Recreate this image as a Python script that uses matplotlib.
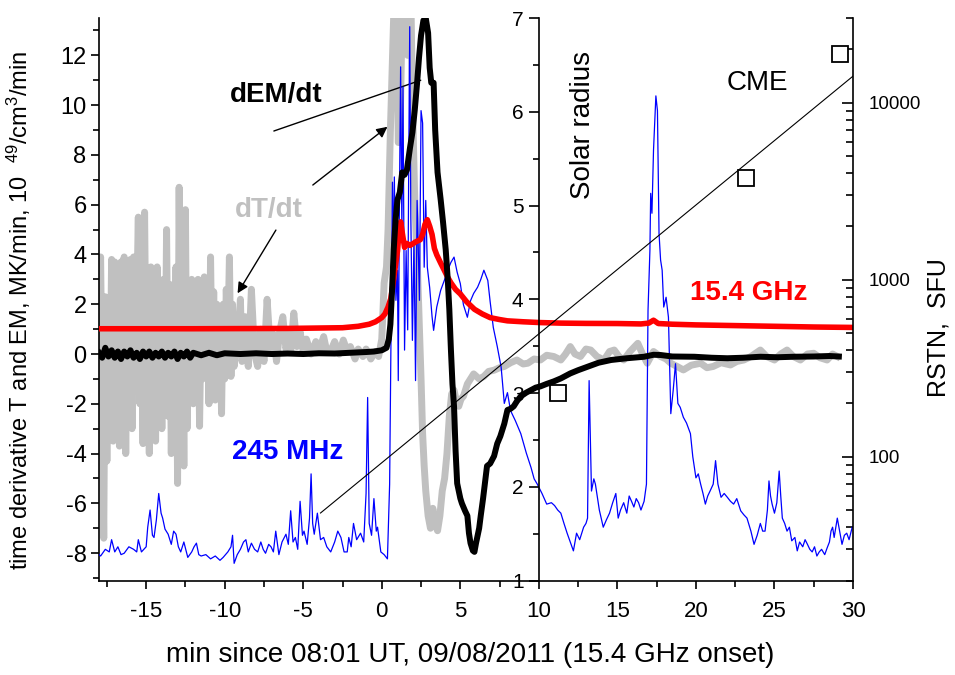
import numpy as np
import matplotlib
matplotlib.use('Agg')
import matplotlib.pyplot as plt
from matplotlib.ticker import MultipleLocator, LogLocator, NullFormatter, FixedLocator, FixedFormatter

plt.rcParams['font.family'] = 'Liberation Sans'
plt.rcParams['axes.unicode_minus'] = False
plt.rcParams['mathtext.default'] = 'regular'

# dT/dt, MK/min (grey) -- time in min since 08:01 UT
dT_dt = np.array([
    [-18.0, 0.5], [-17.9, 3.9], [-17.8, -1.9], [-17.7, -7.4], [-17.6, 2.3], [-17.5, -4.3],
    [-17.4, 2.2], [-17.3, -2.0], [-17.2, 3.8], [-17.1, -3.5], [-17.0, 3.7], [-16.9, -2.5],
    [-16.8, 1.0], [-16.7, -3.7], [-16.6, 3.7], [-16.5, -1.0], [-16.4, 3.9], [-16.3, -4.0],
    [-16.2, 2.5], [-16.1, -2.0], [-16.0, 3.8], [-15.9, -3.0], [-15.8, 3.9], [-15.7, -1.5],
    [-15.6, 2.0], [-15.5, 5.5], [-15.4, -2.0], [-15.3, 3.0], [-15.2, -3.6], [-15.1, 5.7],
    [-15.0, -1.0], [-14.9, 2.5], [-14.8, -4.0], [-14.7, 3.5], [-14.6, -2.0], [-14.5, 2.8],
    [-14.4, -3.5], [-14.3, 3.5], [-14.2, -1.0], [-14.1, 1.8], [-14.0, -3.0], [-13.9, 3.0],
    [-13.8, -1.85], [-13.7, 5.0], [-13.6, -2.5], [-13.5, 2.8], [-13.4, -4.0], [-13.3, 2.0],
    [-13.2, -3.0], [-13.1, 3.5], [-13.0, -5.2], [-12.9, 6.7], [-12.8, -2.0], [-12.7, 3.0],
    [-12.6, -4.5], [-12.5, 5.8], [-12.4, -3.0], [-12.3, 2.5], [-12.2, -1.5], [-12.1, 3.0],
    [-12.0, -2.0], [-11.9, 2.0], [-11.8, -1.0], [-11.7, 3.0], [-11.6, -2.9], [-11.5, 1.5],
    [-11.4, -1.0], [-11.3, 3.1], [-11.2, -0.5], [-11.1, 2.0], [-11.0, -2.0], [-10.9, 3.9],
    [-10.8, -1.0], [-10.7, 2.5], [-10.6, -1.85], [-10.5, 2.0], [-10.4, -0.5], [-10.3, 1.5],
    [-10.2, -2.4], [-10.1, 2.0], [-10.0, -1.0], [-9.9, 2.6], [-9.8, 0.5], [-9.7, 3.9],
    [-9.6, -0.9], [-9.5, 2.0], [-9.4, -0.5], [-9.3, 1.5], [-9.2, 0.0], [-9.0, 2.2],
    [-8.9, -0.3], [-8.7, 1.5], [-8.5, -0.5], [-8.3, 2.6], [-8.1, 0.0], [-7.9, -0.5],
    [-7.7, 1.0], [-7.5, -0.3], [-7.3, 2.2], [-7.1, 0.2], [-6.9, 0.8], [-6.7, -0.3],
    [-6.5, 0.9], [-6.3, 1.5], [-6.1, 0.2], [-5.9, 0.8], [-5.8, 0.1], [-5.6, 1.65],
    [-5.4, 0.3], [-5.2, 0.9], [-5.0, 0.1], [-4.8, 0.6], [-4.5, 0.0], [-4.2, 0.5],
    [-4.0, 0.1], [-3.7, 0.7], [-3.5, 0.1], [-3.2, 0.2], [-3.0, 0.5], [-2.7, 0.0],
    [-2.45, 0.56], [-2.2, 0.1], [-2.0, 0.3], [-1.7, -0.2], [-1.5, 0.2], [-1.2, -0.1],
    [-1.0, 0.2], [-0.7, -0.2], [-0.4, 0.1], [-0.2, -0.1], [0.0, 0.6], [0.15, 2.85],
    [0.3, 3.5], [0.4, 5.0], [0.55, 9.0], [0.68, 11.8], [0.8, 14.5], [0.95, 14.5],
    [1.05, 8.5], [1.15, 8.5], [1.25, 12.0], [1.35, 14.5], [1.55, 14.5], [1.65, 12.0],
    [1.75, 14.5], [1.85, 14.5], [1.95, 10.2], [2.1, 6.2], [2.27, 3.5], [2.4, 1.0],
    [2.5, -1.0], [2.6, -3.2], [2.7, -4.5], [2.8, -5.5], [2.95, -6.5], [3.1, -7.0],
    [3.25, -6.2], [3.4, -6.8], [3.55, -7.1], [3.7, -6.5], [3.85, -5.5], [4.0, -5.0],
    [4.15, -4.0], [4.3, -2.5], [4.45, -1.6], [4.6, -1.45], [4.75, -1.9], [4.9, -2.1],
    [5.05, -1.8], [5.2, -1.7], [5.45, -1.2], [5.65, -1.0], [5.85, -0.8], [6.2, -1.0],
    [6.5, -0.9], [6.8, -0.7], [7.15, -0.65], [7.5, -0.55], [7.8, -0.5], [8.2, -0.35],
    [8.6, -0.24], [9.0, -0.4], [9.3, -0.37], [9.7, -0.2], [10.1, -0.24], [10.5, -0.05],
    [10.95, -0.1], [11.4, -0.24], [11.7, 0.0], [12.0, 0.3], [12.3, 0.0], [12.65, -0.1],
    [13.0, 0.2], [13.3, 0.16], [13.7, -0.1], [14.15, -0.24], [14.5, 0.1], [14.8, 0.16],
    [15.1, -0.1], [15.4, -0.24], [15.8, 0.1], [16.3, 0.43], [16.6, 0.0], [16.9, -0.37],
    [17.3, 0.1], [17.75, -0.1], [18.1, -0.2], [18.4, -0.37], [18.8, -0.5], [19.2, -0.64],
    [19.7, -0.45], [20.3, -0.37], [20.7, -0.55], [21.1, -0.5], [21.6, -0.35], [22.2, -0.44],
    [22.6, -0.3], [23.05, -0.24], [23.5, -0.1], [24.1, 0.16], [24.5, -0.1], [25.0, -0.24],
    [25.4, 0.0], [25.8, 0.16], [26.2, -0.1], [26.65, -0.24], [27.1, 0.0], [27.5, 0.03],
    [27.9, -0.15], [28.35, -0.24], [28.7, 0.0], [29.0, -0.1],
])

# dEM/dt, 10^49 cm^-3/min (black)
dEM_dt = np.array([
    [-18.0, 0.05], [-17.8, -0.15], [-17.6, 0.25], [-17.4, -0.1], [-17.2, 0.15], [-17.0, -0.15],
    [-16.8, 0.1], [-16.6, -0.2], [-16.4, 0.1], [-16.2, -0.1], [-16.0, 0.15], [-15.8, -0.15],
    [-15.6, 0.05], [-15.4, -0.2], [-15.2, 0.1], [-15.0, -0.1], [-14.8, 0.1], [-14.6, -0.15],
    [-14.4, 0.05], [-14.2, -0.1], [-14.0, 0.1], [-13.8, -0.15], [-13.6, 0.05], [-13.4, -0.1],
    [-13.2, 0.1], [-13.0, -0.2], [-12.8, 0.05], [-12.6, -0.1], [-12.4, 0.1], [-12.2, -0.15],
    [-12.0, 0.05], [-11.5, -0.05], [-11.0, 0.05], [-10.5, -0.05], [-10.0, 0.03], [-9.0, 0.0],
    [-8.0, 0.03], [-7.0, 0.0], [-6.0, 0.02], [-5.0, 0.0], [-4.0, 0.03], [-3.0, 0.02],
    [-2.0, 0.05], [-1.0, 0.08], [-0.5, 0.1], [0.0, 0.15], [0.3, 0.25], [0.45, 0.6],
    [0.55, 1.2], [0.65, 2.5], [0.76, 4.2], [0.88, 5.4], [1.0, 6.2], [1.15, 6.5],
    [1.3, 7.3], [1.45, 7.2], [1.6, 7.4], [1.8, 8.3], [1.95, 8.9], [2.1, 9.8],
    [2.25, 10.9], [2.37, 11.9], [2.5, 12.8], [2.65, 13.4], [2.8, 13.5], [2.95, 12.9],
    [3.05, 11.5], [3.15, 10.9], [3.3, 10.9], [3.4, 9.0], [3.55, 7.3], [3.75, 6.2],
    [3.9, 5.3], [4.07, 4.2], [4.2, 3.0], [4.3, 1.8], [4.4, 0.2], [4.5, -1.2],
    [4.6, -2.1], [4.7, -3.9], [4.8, -5.2], [5.0, -5.8], [5.1, -6.0], [5.3, -6.3],
    [5.45, -6.5], [5.55, -7.2], [5.65, -7.6], [5.8, -7.9], [5.9, -7.95], [6.0, -7.6],
    [6.1, -7.3], [6.2, -7.0], [6.3, -6.5], [6.45, -5.8], [6.6, -5.0], [6.7, -4.5],
    [6.9, -4.4], [7.15, -4.1], [7.35, -3.6], [7.55, -3.3], [7.8, -2.8], [8.0, -2.25],
    [8.2, -2.2], [8.4, -2.1], [8.6, -1.9], [8.85, -1.7], [9.2, -1.55], [9.5, -1.45],
    [9.8, -1.35], [10.1, -1.3], [10.5, -1.2], [10.95, -1.1], [11.4, -0.98], [12.0, -0.78],
    [12.5, -0.65], [13.1, -0.51], [13.8, -0.35], [14.6, -0.24], [15.6, -0.17], [16.7, -0.11],
    [17.3, -0.03], [17.75, -0.04], [18.5, -0.1], [19.9, -0.11], [21.0, -0.15], [22.0, -0.17],
    [23.0, -0.15], [24.1, -0.11], [25.2, -0.13], [26.2, -0.11], [27.5, -0.1], [28.5, -0.08],
    [29.1, -0.1],
])

# RSTN 15.4 GHz, SFU (red)
rstn_15400 = np.array([
    [-18.0, 528], [-12.0, 528], [-6.0, 530], [-2.5, 535], [-1.5, 545], [-0.8, 560],
    [-0.4, 578], [0.0, 610], [0.2, 640], [0.4, 700], [0.57, 780], [0.7, 920],
    [0.8, 1080], [0.9, 1250], [1.0, 1450], [1.1, 1850], [1.2, 2120], [1.3, 1850],
    [1.45, 1520], [1.6, 1600], [1.8, 1560], [2.0, 1600], [2.2, 1640], [2.45, 1680],
    [2.6, 1800], [2.75, 2050], [2.9, 2180], [3.05, 2000], [3.2, 1800], [3.35, 1500],
    [3.5, 1380], [3.75, 1240], [4.0, 1120], [4.2, 1030], [4.4, 960], [4.7, 880],
    [5.0, 830], [5.4, 750], [5.9, 680], [6.4, 640], [6.9, 610], [7.5, 595],
    [8.0, 585], [9.0, 578], [10.1, 572], [11.4, 568], [13.0, 566], [15.0, 565],
    [16.5, 562], [17.0, 568], [17.3, 590], [17.6, 565], [18.5, 560], [20.0, 555],
    [22.5, 550], [25.0, 545], [27.5, 540], [30.0, 537],
])

# RSTN 245 MHz, SFU (blue)
rstn_245 = np.array([
    [-18.0, 28], [-17.9, 27.5], [-17.6, 30], [-17.35, 29], [-17.2, 34], [-17.0, 29],
    [-16.8, 31], [-16.6, 28], [-16.4, 28.5], [-16.1, 31], [-15.8, 30], [-15.6, 29],
    [-15.5, 34], [-15.3, 29], [-15.0, 31], [-14.9, 40], [-14.75, 50], [-14.6, 36],
    [-14.5, 35], [-14.35, 44], [-14.2, 62], [-14.05, 48], [-13.95, 45], [-13.8, 39],
    [-13.6, 36.5], [-13.4, 32], [-13.25, 38], [-13.1, 36.5], [-12.95, 31], [-12.8, 29],
    [-12.6, 33], [-12.35, 27], [-12.1, 29], [-11.95, 31], [-11.8, 32.5], [-11.65, 28],
    [-11.5, 27.5], [-11.2, 28], [-10.9, 26.5], [-10.6, 27.5], [-10.3, 26], [-10.1, 27],
    [-9.8, 29], [-9.6, 31], [-9.5, 36], [-9.4, 25], [-9.2, 28], [-9.0, 30],
    [-8.8, 33], [-8.65, 34], [-8.5, 29], [-8.3, 32.5], [-8.1, 30], [-7.9, 29],
    [-7.7, 33], [-7.55, 30], [-7.4, 28.5], [-7.2, 32], [-7.05, 31], [-6.9, 29],
    [-6.75, 38], [-6.55, 28], [-6.35, 33], [-6.1, 36.5], [-5.95, 32], [-5.8, 49.5],
    [-5.65, 33], [-5.5, 35], [-5.35, 30], [-5.2, 56], [-5.05, 36], [-4.95, 38],
    [-4.75, 32], [-4.6, 45], [-4.5, 80], [-4.4, 42], [-4.3, 36.5], [-4.1, 48],
    [-3.9, 34], [-3.7, 35], [-3.5, 31], [-3.25, 29], [-3.0, 33], [-2.8, 38],
    [-2.6, 35], [-2.4, 29], [-2.2, 29], [-2.1, 35], [-1.95, 31], [-1.8, 42],
    [-1.6, 34], [-1.35, 37], [-1.15, 33], [-1.0, 62], [-0.9, 216], [-0.8, 42],
    [-0.65, 36], [-0.5, 58], [-0.35, 38], [-0.27, 40], [-0.06, 29], [0.15, 28],
    [0.36, 26.5], [0.5, 70], [0.57, 320], [0.62, 870], [0.68, 3550], [0.75, 1285],
    [0.8, 3800], [0.9, 764], [1.0, 1130], [1.05, 269], [1.12, 2500], [1.2, 15900],
    [1.28, 1900], [1.35, 12250], [1.45, 400], [1.55, 1460], [1.65, 520], [1.72, 5000],
    [1.78, 26800], [1.85, 2250], [1.95, 454], [2.05, 1670], [2.15, 269], [2.25, 2800],
    [2.4, 764], [2.5, 9000], [2.6, 7650], [2.7, 1175], [2.8, 2800], [2.9, 1175],
    [3.05, 900], [3.2, 620], [3.3, 517], [3.5, 700], [3.75, 870], [4.0, 1000],
    [4.2, 1130], [4.4, 1250], [4.6, 1340], [4.8, 1100], [5.0, 950], [5.2, 720],
    [5.45, 613], [5.65, 760], [5.85, 836], [6.1, 906], [6.3, 1000], [6.5, 1130],
    [6.75, 990], [6.9, 750], [7.1, 537], [7.35, 420], [7.6, 320], [7.8, 200],
    [8.0, 230], [8.2, 182], [8.5, 160], [8.85, 135], [9.2, 105], [9.5, 87],
    [9.7, 75], [9.9, 70], [10.2, 62], [10.5, 54], [10.8, 55], [11.0, 53],
    [11.2, 50], [11.4, 48], [11.6, 42], [11.8, 37], [12.0, 33], [12.2, 29.4],
    [12.4, 37], [12.6, 34], [12.85, 40], [13.0, 42], [13.1, 45], [13.2, 269],
    [13.35, 64], [13.5, 75], [13.6, 70], [13.85, 50], [14.1, 40], [14.3, 44],
    [14.5, 48], [14.7, 55], [14.9, 62], [15.05, 45], [15.2, 50], [15.4, 55],
    [15.6, 48], [15.75, 60], [15.9, 56], [16.05, 52], [16.2, 58], [16.35, 55],
    [16.5, 50], [16.7, 56], [16.85, 70], [16.95, 670], [17.07, 1460], [17.12, 3070],
    [17.2, 2370], [17.3, 5390], [17.45, 10900], [17.55, 9000], [17.65, 1830], [17.75, 1290],
    [17.85, 1130], [17.95, 700], [18.1, 795], [18.25, 613], [18.4, 175], [18.55, 236],
    [18.7, 335], [18.85, 200], [19.0, 190], [19.2, 167], [19.4, 155], [19.65, 135],
    [19.8, 100], [20.0, 76], [20.15, 80], [20.3, 70], [20.45, 62], [20.6, 54],
    [20.75, 60], [20.9, 64], [21.1, 70], [21.25, 95], [21.4, 70], [21.6, 59],
    [21.8, 62], [22.0, 59], [22.2, 56], [22.4, 54], [22.6, 58], [22.85, 49.5],
    [23.05, 47], [23.25, 45], [23.5, 38], [23.7, 32], [23.9, 36], [24.1, 42],
    [24.25, 38], [24.4, 38], [24.55, 50], [24.65, 73], [24.75, 60], [24.85, 54],
    [25.0, 48], [25.15, 55], [25.3, 83], [25.4, 60], [25.5, 45], [25.65, 42],
    [25.8, 38], [25.95, 40], [26.1, 33.5], [26.3, 35], [26.45, 29.4], [26.6, 33],
    [26.8, 31], [26.95, 34], [27.1, 32], [27.25, 30], [27.4, 29], [27.55, 31],
    [27.7, 27.5], [27.85, 29], [28.0, 30], [28.2, 28], [28.35, 30.5], [28.5, 33],
    [28.6, 38], [28.7, 40], [28.8, 35], [29.0, 45], [29.15, 38], [29.3, 32],
    [29.45, 36], [29.6, 37], [29.75, 34], [29.95, 40],
])

# CME height, solar radii, and its linear fit
cme_t = [11.2, 23.2, 29.2]
cme_r = [3.0, 5.29, 6.62]
cme_fit_t = [-3.9, 30.0]
cme_fit_r = [1.72, 6.38]

grey = '#c0c0c0'

fig = plt.figure(figsize=(9.55, 6.75), dpi=100)
ax = fig.add_axes([0.1037, 0.14, 0.7895, 0.8333])
ax2 = ax.twinx()
ax4 = ax.twinx()
ax3 = ax.twinx()

ax.plot(dT_dt[:, 0], dT_dt[:, 1], color=grey, lw=5.0, solid_joinstyle='round')
ax2.plot(rstn_245[:, 0], rstn_245[:, 1], color='blue', lw=0.9)
ax2.plot(rstn_15400[:, 0], rstn_15400[:, 1], color='red', lw=4.0)
ax4.plot(dEM_dt[:, 0], dEM_dt[:, 1], color='black', lw=4.3)
ax3.plot(cme_fit_t, cme_fit_r, color='black', lw=0.8)
ax3.plot(cme_t, cme_r, ls='none', marker='s', ms=12, mfc='white', mec='black', mew=1.3)

ax.set_xlim(-18, 30)
ax.set_ylim(-9.1, 13.5)
ax4.set_ylim(-9.1, 13.5)
ax2.set_yscale('log')
ax2.set_ylim(20, 30000)
ax3.set_ylim(1, 7)

# main left / bottom axes
for s in ['top', 'right']:
    ax.spines[s].set_visible(False)
for s in ['left', 'bottom']:
    ax.spines[s].set_linewidth(1.2)
ax.xaxis.set_major_locator(MultipleLocator(5))
ax.xaxis.set_minor_locator(MultipleLocator(2.5))
ax.yaxis.set_major_locator(MultipleLocator(2))
ax.yaxis.set_minor_locator(MultipleLocator(1))
ax.tick_params(which='both', direction='out', width=1.2)
ax.tick_params(which='major', length=6)
ax.tick_params(which='minor', length=4)
ax.tick_params(axis='y', labelsize=17, pad=3)
ax.tick_params(axis='x', labelsize=16, pad=9)

ax.set_xlabel('min since 08:01 UT, 09/08/2011 (15.4 GHz onset)', fontsize=20)
ax.xaxis.set_label_coords(0.492, -0.11)
ax.set_ylabel('time derivative T and EM, MK/min, 10  $^{49}$/cm$^3$/min', fontsize=17)
ax.yaxis.set_label_coords(-0.088, 0.48)

# right log axis
for s in ['top', 'left', 'bottom']:
    ax2.spines[s].set_visible(False)
ax2.spines['right'].set_linewidth(1.2)
ax2.yaxis.set_major_locator(FixedLocator([100, 1000, 10000]))
ax2.yaxis.set_major_formatter(FixedFormatter(['100', '1000', '10000']))
ax2.yaxis.set_minor_locator(LogLocator(base=10, subs=np.arange(2, 10)))
ax2.yaxis.set_minor_formatter(NullFormatter())
ax2.tick_params(which='both', direction='in', width=1.2, labelsize=13.5, pad=11)
ax2.tick_params(which='major', length=8)
ax2.tick_params(which='minor', length=5)
ax.text(1.113, 0.45, 'RSTN,  SFU', transform=ax.transAxes, rotation=90,
        fontsize=18, ha='center', va='center')

# black curve overlay, no axis of its own
ax4.axis('off')

# solar radius axis, spine at t = 10 min
for s in ['top', 'right', 'bottom']:
    ax3.spines[s].set_visible(False)
ax3.spines['left'].set_visible(True)
ax3.spines['left'].set_position(('data', 10))
ax3.spines['left'].set_linewidth(1.2)
ax3.yaxis.set_ticks_position('left')
ax3.yaxis.set_major_locator(MultipleLocator(1))
ax3.yaxis.set_minor_locator(MultipleLocator(0.5))
ax3.tick_params(which='both', direction='out', width=1.2, labelsize=15, pad=4)
ax3.tick_params(which='major', length=7)
ax3.tick_params(which='minor', length=4)

# labels and arrows
ax.text(-6.7, 10.4, 'dEM/dt', fontsize=20, fontweight='bold', ha='center', va='center')
ax.text(-7.2, 5.8, 'dT/dt', fontsize=20, fontweight='bold', color=grey, ha='center', va='center')
ax.text(-6.0, -3.95, '245 MHz', fontsize=20, fontweight='bold', color='blue', ha='center', va='center')
ax.text(23.35, 2.45, '15.4 GHz', fontsize=20, fontweight='bold', color='red', ha='center', va='center')
ax.text(23.9, 10.9, 'CME', fontsize=20, ha='center', va='center')
ax.text(12.8, 9.2, 'Solar radius', fontsize=20, rotation=90, ha='center', va='center')

ax.annotate('', xy=(2.48, 11.0), xytext=(-6.87, 8.96),
            arrowprops=dict(arrowstyle='-', color='black', lw=1, shrinkA=0, shrinkB=0))
ax.annotate('', xy=(0.36, 9.13), xytext=(-4.39, 6.79),
            arrowprops=dict(arrowstyle='-|>', color='black', lw=1, mutation_scale=16, shrinkA=0, shrinkB=0))
ax.annotate('', xy=(-9.18, 2.44), xytext=(-6.74, 4.98),
            arrowprops=dict(arrowstyle='-|>', color='black', lw=1, mutation_scale=16, shrinkA=0, shrinkB=0))

fig.savefig('out.png', dpi=100)
